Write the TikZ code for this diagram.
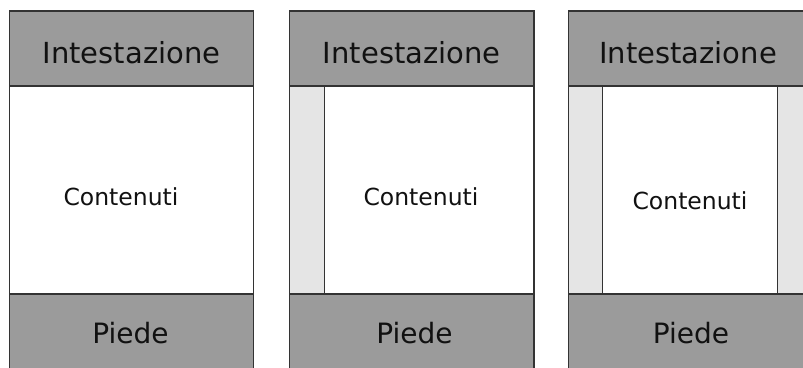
\documentclass[tikz,border=0pt]{standalone}
\usepackage{fontspec}
\setmainfont{DejaVu Sans}
\definecolor{hdr}{HTML}{9B9B9B}
\definecolor{side}{HTML}{E5E5E5}
\definecolor{edge}{HTML}{333333}
\definecolor{ink}{HTML}{111111}
\begin{document}
\begin{tikzpicture}[x=1pt,y=-1pt,
  box/.style={draw=edge,line width=1.3pt,rectangle,inner sep=0pt,outer sep=0pt,anchor=north west},
  bar/.style={box,fill=hdr},
  pane/.style={box,fill=white},
  sidebar/.style={box,fill=side},
  big/.style={anchor=base,inner sep=0pt,text=ink,font=\fontsize{29}{34}\selectfont},
  foot/.style={anchor=base,inner sep=0pt,text=ink,font=\fontsize{28}{34}\selectfont},
  mid/.style={anchor=base,inner sep=0pt,text=ink,font=\fontsize{23.5}{28}\selectfont}]
\useasboundingbox[fill=white] (0,0) rectangle (803,367);
% panel 1
\node[pane,minimum width=244pt,minimum height=208pt] (c1) at (9.5,86) {};
\node[bar,minimum width=244pt,minimum height=75pt] (h1) at (9.5,11) {};
\node[bar,minimum width=244pt,minimum height=90pt] (f1) at (9.5,294) {};
% panel 2
\node[pane,minimum width=244.3pt,minimum height=208pt] (c2) at (289.7,86) {};
\node[sidebar,minimum width=35pt,minimum height=208pt] (s2) at (289.7,86) {};
\node[bar,minimum width=244.3pt,minimum height=75pt] (h2) at (289.7,11) {};
\node[bar,minimum width=244.3pt,minimum height=90pt] (f2) at (289.7,294) {};
% panel 3
\node[pane,minimum width=244pt,minimum height=208pt] (c3) at (568.3,86) {};
\node[sidebar,minimum width=34.4pt,minimum height=208pt] (s3a) at (568.3,86) {};
\node[sidebar,minimum width=40pt,minimum height=208pt] (s3b) at (777.7,86) {};
\node[bar,minimum width=244pt,minimum height=75pt] (h3) at (568.3,11) {};
\node[bar,minimum width=244pt,minimum height=90pt] (f3) at (568.3,294) {};
% texts
\node[big] (t1) at (131.5,63.3) {Intestazione};
\node[big] (t2) at (411.8,63.3) {Intestazione};
\node[big] (t3) at (688,63.3) {Intestazione};
\node[mid] (m1) at (121,205) {Contenuti};
\node[mid] (m2) at (421,205) {Contenuti};
\node[mid] (m3) at (690,209) {Contenuti};
\node[foot] (p1) at (130.5,343.3) {Piede};
\node[foot] (p2) at (414.5,343.3) {Piede};
\node[foot] (p3) at (691,343.3) {Piede};
\end{tikzpicture}
\end{document}
